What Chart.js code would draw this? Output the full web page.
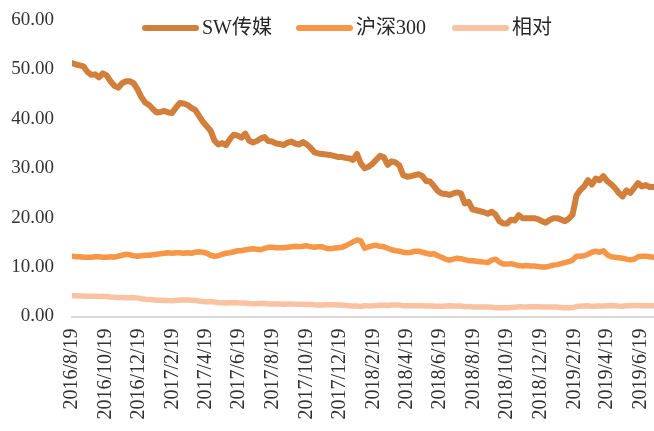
<!DOCTYPE html>
<html>
<head>
<meta charset="utf-8">
<script src="https://cdn.jsdelivr.net/npm/chart.js@4"></script>
<style>
  html, body { margin: 0; padding: 0; background: #fff; }
  #wrap { width: 654px; height: 431px; }
</style>
</head>
<body>
<div id="wrap"><canvas id="chart"></canvas></div>
<script>
// weekly data, first point 2016/8/19
const startDate = '2016/8/19';
const seriesNames = ['SW传媒', '沪深300', '相对'];
const seriesColors = ['#d17f3b', '#f79646', '#f9c2a2'];

const sw = [
  51.3, 51.0, 50.8, 50.6, 49.5, 48.9, 49.0, 48.4, 49.2, 48.8,
  47.6, 46.7, 46.3, 47.2, 47.6, 47.6, 47.2, 46.0, 44.4, 43.3,
  42.8, 42.0, 41.3, 41.4, 41.6, 41.3, 41.2, 42.3, 43.2, 43.1,
  42.8, 42.2, 41.8, 40.6, 39.4, 38.5, 37.6, 35.6, 34.8, 35.1,
  34.7, 35.9, 36.8, 36.6, 36.2, 37.0, 35.6, 35.2, 35.5, 36.0,
  36.3, 35.5, 35.4, 35.0, 34.9, 34.7, 35.2, 35.4, 35.0, 34.8,
  35.3, 34.8, 34.1, 33.2, 33.0, 32.9, 32.8, 32.7, 32.5, 32.3,
  32.3, 32.1, 32.0, 31.7, 32.9, 31.0, 30.0, 30.3, 30.9, 31.7,
  32.5, 32.2, 30.7, 31.4, 31.2, 30.6, 28.6, 28.3, 28.4, 28.6,
  28.8, 28.4, 27.4, 27.3, 26.4, 25.4, 24.9, 24.8, 24.6, 24.9,
  25.1, 24.9, 22.9, 23.2, 21.7, 21.5, 21.3, 21.1, 20.8, 21.2,
  20.6, 19.3, 18.8, 18.8, 19.6, 19.4, 20.5, 19.9, 19.9, 19.9,
  19.9, 19.7, 19.3, 19.0, 19.5, 19.9, 19.9, 19.6, 19.3, 19.8,
  20.6, 24.5, 25.6, 26.3, 27.6, 26.7, 27.9, 27.6, 28.4, 27.4,
  26.8, 26.0, 25.0, 24.3, 25.5, 25.0, 26.0, 27.0, 26.3, 26.6,
  26.2, 26.2
];

const hs300 = [
  12.2, 12.1, 12.1, 12.0, 12.0, 12.0, 12.1, 12.1, 12.0, 12.0,
  12.1, 12.0, 12.2, 12.4, 12.6, 12.5, 12.3, 12.2, 12.3, 12.4,
  12.4, 12.5, 12.6, 12.7, 12.8, 12.9, 12.8, 12.9, 12.9, 12.8,
  12.9, 12.8, 13.0, 13.1, 13.0, 12.8, 12.4, 12.2, 12.3, 12.6,
  12.8, 12.9, 13.1, 13.3, 13.3, 13.5, 13.6, 13.7, 13.6, 13.5,
  13.8, 14.0, 14.0, 13.9, 13.9, 13.9, 14.0, 14.1, 14.2, 14.1,
  14.2, 14.3, 14.1, 14.0, 14.1, 14.1, 13.8, 13.7, 13.8, 13.9,
  14.0, 14.3, 14.7, 15.1, 15.5, 15.3, 13.8, 14.1, 14.3, 14.4,
  14.2, 14.1, 13.8, 13.5, 13.3, 13.2, 13.0, 12.9, 13.0, 13.2,
  13.2, 13.0, 12.8, 12.6, 12.7, 12.3, 12.0, 11.6, 11.4, 11.6,
  11.8, 11.7, 11.5, 11.3, 11.3, 11.2, 11.1, 11.0, 10.9, 11.4,
  11.6, 11.0, 10.6, 10.6, 10.7, 10.5, 10.3, 10.2, 10.3, 10.2,
  10.2, 10.1, 10.0, 10.0, 10.2, 10.4, 10.5, 10.7, 10.9, 11.1,
  11.4, 12.2, 12.2, 12.3, 12.6, 13.0, 13.2, 13.0, 13.3, 12.5,
  12.1, 12.0, 11.9, 11.8, 11.6, 11.5, 11.6, 12.1, 12.2, 12.2,
  12.1, 12.0
];

const rel = [
  4.20, 4.18, 4.17, 4.15, 4.12, 4.08, 4.08, 4.04, 4.08, 4.05,
  3.95, 3.90, 3.82, 3.82, 3.80, 3.80, 3.82, 3.75, 3.62, 3.50,
  3.45, 3.38, 3.30, 3.28, 3.26, 3.22, 3.20, 3.26, 3.32, 3.34,
  3.32, 3.30, 3.22, 3.12, 3.04, 3.00, 3.02, 2.92, 2.84, 2.80,
  2.72, 2.78, 2.82, 2.76, 2.72, 2.74, 2.64, 2.58, 2.60, 2.66,
  2.63, 2.54, 2.52, 2.52, 2.51, 2.50, 2.52, 2.51, 2.47, 2.46,
  2.49, 2.44, 2.42, 2.37, 2.34, 2.33, 2.37, 2.38, 2.36, 2.33,
  2.31, 2.25, 2.18, 2.10, 2.12, 2.03, 2.17, 2.15, 2.16, 2.20,
  2.29, 2.28, 2.22, 2.32, 2.34, 2.32, 2.20, 2.19, 2.18, 2.17,
  2.18, 2.18, 2.14, 2.16, 2.08, 2.07, 2.07, 2.14, 2.16, 2.15,
  2.13, 2.13, 1.99, 2.05, 1.92, 1.92, 1.92, 1.92, 1.91, 1.86,
  1.78, 1.75, 1.77, 1.77, 1.83, 1.85, 1.99, 1.95, 1.93, 1.95,
  1.95, 1.95, 1.93, 1.90, 1.91, 1.91, 1.90, 1.83, 1.77, 1.78,
  1.81, 2.01, 2.10, 2.14, 2.19, 2.05, 2.11, 2.12, 2.14, 2.19,
  2.21, 2.17, 2.10, 2.06, 2.20, 2.17, 2.24, 2.23, 2.16, 2.18,
  2.17, 2.18
];

const tickLabels = [
  '2016/8/19', '2016/10/19', '2016/12/19', '2017/2/19', '2017/4/19', '2017/6/19',
  '2017/8/19', '2017/10/19', '2017/12/19', '2018/2/19', '2018/4/19', '2018/6/19',
  '2018/8/19', '2018/10/19', '2018/12/19', '2019/2/19', '2019/4/19', '2019/6/19'
];

const yTicks = [0, 10, 20, 30, 40, 50, 60];

const serif = "'Liberation Serif', 'Noto Sans CJK SC', serif";

const toDay = (s) => {
  const [y, m, d] = s.split('/').map(Number);
  return Date.UTC(y, m - 1, d) / 86400000;
};
const day0 = toDay(startDate);
const tickDays = tickLabels.map(t => toDay(t) - day0);
const toPoints = (arr) => arr.map((v, i) => ({ x: i * 7, y: v }));

const legendPlugin = {
  id: 'topLegend',
  afterDraw(chart) {
    const ctx = chart.ctx;
    const spots = [143, 297, 453];
    ctx.save();
    ctx.font = '20px ' + serif;
    ctx.textBaseline = 'middle';
    ctx.textAlign = 'left';
    chart.data.datasets.forEach((ds, i) => {
      const x = spots[i];
      ctx.strokeStyle = ds.borderColor;
      ctx.lineWidth = 6;
      ctx.lineCap = 'round';
      ctx.beginPath();
      ctx.moveTo(x + 2, 28);
      ctx.lineTo(x + 53, 28);
      ctx.stroke();
      ctx.fillStyle = '#262626';
      ctx.fillText(ds.label, x + 59, 29);
    });
    ctx.restore();
  }
};

const makeSet = (label, values, color, width) => ({
  label: label,
  data: toPoints(values),
  borderColor: color,
  backgroundColor: color,
  borderWidth: width,
  pointRadius: 0,
  tension: 0,
  borderJoinStyle: 'round',
  borderCapStyle: 'round',
  fill: false
});

new Chart(document.getElementById('chart'), {
  type: 'line',
  data: {
    datasets: [
      makeSet(seriesNames[0], sw, seriesColors[0], 6),
      makeSet(seriesNames[1], hs300, seriesColors[1], 5.5),
      makeSet(seriesNames[2], rel, seriesColors[2], 5.5)
    ]
  },
  options: {
    responsive: true,
    maintainAspectRatio: false,
    animation: false,
    layout: { padding: { top: 20, right: 0, left: 0, bottom: 0 } },
    plugins: {
      legend: { display: false },
      tooltip: { enabled: false }
    },
    scales: {
      x: {
        type: 'linear',
        min: 0,
        max: 1058,
        grid: { display: false, drawTicks: false },
        border: { display: true, color: '#d9d9d9', width: 2 },
        afterBuildTicks: (scale) => {
          scale.ticks = tickDays.map(v => ({ value: v }));
        },
        afterFit: (scale) => {
          scale.height = 114.5;
          scale.paddingLeft = 0;
          scale.paddingRight = 0;
        },
        ticks: {
          autoSkip: false,
          maxRotation: 90,
          minRotation: 90,
          padding: 12,
          color: '#333',
          font: { family: serif, size: 20 },
          callback: (v) => tickLabels[tickDays.indexOf(v)] || ''
        }
      },
      y: {
        min: 0,
        max: 60,
        grid: { display: false, drawTicks: false },
        border: { display: false },
        afterBuildTicks: (scale) => {
          scale.ticks = yTicks.map(v => ({ value: v }));
        },
        afterFit: (scale) => {
          scale.width = 72;
          scale.paddingTop = 0;
          scale.paddingBottom = 0;
        },
        ticks: {
          padding: 18,
          color: '#333',
          font: { family: serif, size: 19 },
          callback: (v) => Number(v).toFixed(2)
        }
      }
    }
  },
  plugins: [legendPlugin]
});
</script>
</body>
</html>
